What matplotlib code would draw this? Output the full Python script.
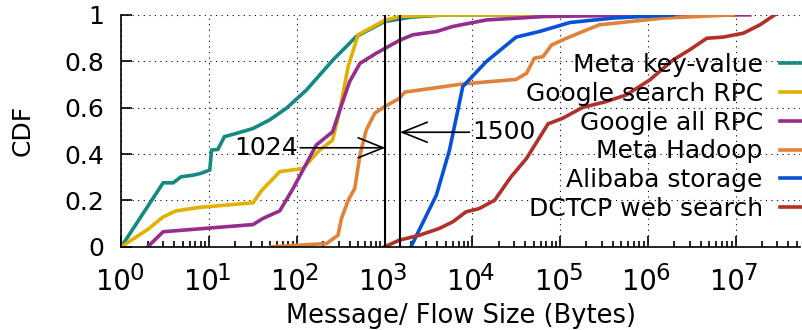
import numpy as np
import matplotlib.pyplot as plt
from matplotlib.ticker import LogLocator, NullFormatter

# CDF curves (size in bytes, cumulative fraction)
kv_x = [1, 3.0, 3.9, 4.8, 6.6, 8.1, 10.2, 10.7, 12.6, 15, 20.5, 31.7, 49, 76, 129, 259, 475, 1000, 2000, 5000, 1e6]
kv_y = [0, 0.276, 0.276, 0.302, 0.309, 0.317, 0.331, 0.417, 0.42, 0.475, 0.489, 0.51, 0.547, 0.597, 0.676, 0.806, 0.906, 0.971, 0.99, 1.0, 1.0]

gs_x = [1, 2.0, 3.0, 4.2, 7.8, 31.7, 39.6, 64, 118, 182, 256, 310, 385, 500, 1000, 1480, 5000, 1e7]
gs_y = [0, 0.075, 0.129, 0.155, 0.17, 0.19, 0.242, 0.324, 0.338, 0.417, 0.46, 0.59, 0.777, 0.914, 0.976, 0.993, 1.0, 1.0]

ga_x = [2.0, 3.0, 31.7, 41, 64, 91, 167, 256, 310, 400, 525, 810, 1480, 2100, 3900, 6000, 14500, 69000, 9.5e5, 1.45e7]
ga_y = [0, 0.065, 0.096, 0.122, 0.155, 0.252, 0.439, 0.496, 0.59, 0.712, 0.791, 0.835, 0.89, 0.914, 0.928, 0.95, 0.978, 0.993, 0.999, 1.0]

hd_x = [51, 218, 295, 323, 385, 458, 525, 620, 775, 1000, 1480, 1700, 7800, 31700, 41500, 51000, 64000, 80000, 118000, 2.8e5, 1.5e6, 9.4e6]
hd_y = [0, 0.014, 0.05, 0.122, 0.2, 0.252, 0.396, 0.504, 0.576, 0.604, 0.64, 0.667, 0.702, 0.722, 0.748, 0.813, 0.82, 0.87, 0.899, 0.957, 0.986, 1.0]

ali_x = [2000, 3900, 5500, 7800, 14500, 31600, 58000, 1.3e5, 4e5, 1.95e6]
ali_y = [0, 0.223, 0.417, 0.691, 0.799, 0.904, 0.928, 0.967, 0.986, 1.0]

web_x = [1000, 1480, 2500, 4200, 6000, 8500, 12000, 18000, 27700, 41500, 56000, 73000, 107000, 181000, 3.35e5, 5.7e5, 1.05e6, 1.95e6, 3e6, 4.7e6, 7.2e6, 1.23e7, 1.9e7, 2.8e7]
web_y = [0, 0.029, 0.05, 0.079, 0.108, 0.151, 0.165, 0.201, 0.302, 0.381, 0.46, 0.53, 0.554, 0.601, 0.626, 0.655, 0.719, 0.806, 0.849, 0.899, 0.904, 0.921, 0.957, 1.0]

labels = ['Meta key-value', 'Google search RPC', 'Google all RPC',
          'Meta Hadoop', 'Alibaba storage', 'DCTCP web search']
colors = ['#138a80', '#e2b000', '#952d8c', '#e0823a', '#0552d8', '#b0302a']
marks = [1024, 1500]
decades = [0, 1, 2, 3, 4, 5, 6, 7]

FS = 18
plt.rcParams['font.family'] = 'DejaVu Sans'
fig = plt.figure(figsize=(8.03, 3.30), dpi=100)
ax = fig.add_axes([0.151, 0.252, 0.845, 0.703])

series = [(kv_x, kv_y), (gs_x, gs_y), (ga_x, ga_y), (hd_x, hd_y), (ali_x, ali_y), (web_x, web_y)]
for (xs, ys), lab, c in zip(series, labels, colors):
    ax.plot(xs, ys, color=c, lw=2.6, label=lab, solid_joinstyle='miter')

for m in marks:
    ax.plot([m, m], [0, 1], color='black', lw=1.5)

arrow = dict(arrowstyle='->,head_length=1.0,head_width=0.4', color='black', lw=1.2,
             shrinkA=0, shrinkB=0)
ax.annotate('1024', xy=(1024, 0.427), xytext=(102, 0.427), fontsize=FS,
            va='center', ha='right', arrowprops=arrow)
ax.annotate('1500', xy=(1500, 0.494), xytext=(10000, 0.494), fontsize=FS,
            va='center', ha='left', arrowprops=arrow)

ax.set_xscale('log')
ax.set_xlim(1, 5.4e7)
ax.set_ylim(0, 1)
ax.set_xticks([10**k for k in decades])
ax.set_xticklabels([])
ax.xaxis.set_minor_locator(LogLocator(base=10, subs=np.arange(2, 10), numticks=20))
ax.xaxis.set_minor_formatter(NullFormatter())
ax.set_yticks([0, 0.2, 0.4, 0.6, 0.8, 1.0])
ax.set_yticklabels(['0', '0.2', '0.4', '0.6', '0.8', '1'])
ax.tick_params(which='both', direction='in', labelsize=FS, width=1.2)
ax.tick_params(which='major', length=8)
ax.tick_params(which='minor', length=4)
ax.tick_params(axis='y', which='major', pad=12)
ax.grid(True, which='major', color='black', linestyle=(0, (1, 4)), lw=0.8)

# gnuplot-style 10^k labels with a large exponent
for k in decades:
    ax.annotate('10', xy=(10**k, 0), xycoords=('data', 'axes fraction'),
                xytext=(-5.8, -31), textcoords='offset points',
                ha='center', va='baseline', fontsize=19.8)
    ax.annotate(str(k), xy=(10**k, 0), xycoords=('data', 'axes fraction'),
                xytext=(5.6, -24), textcoords='offset points',
                ha='left', va='baseline', fontsize=16.5)

for s in ['top', 'right']:
    ax.spines[s].set_visible(False)
for s in ['left', 'bottom']:
    ax.spines[s].set_linewidth(1.2)

ax.set_xlabel('Message/ Flow Size (Bytes)', fontsize=18.5)
ax.xaxis.set_label_coords(0.5, -0.242)
ax.set_ylabel('CDF', fontsize=FS, labelpad=22)

ax.legend(loc='upper right', bbox_to_anchor=(1.045, 0.878), frameon=False,
          markerfirst=False, fontsize=FS, handlelength=1.6, handletextpad=0.7,
          labelspacing=0.19, borderaxespad=0)

fig.savefig('out.png', dpi=100)
